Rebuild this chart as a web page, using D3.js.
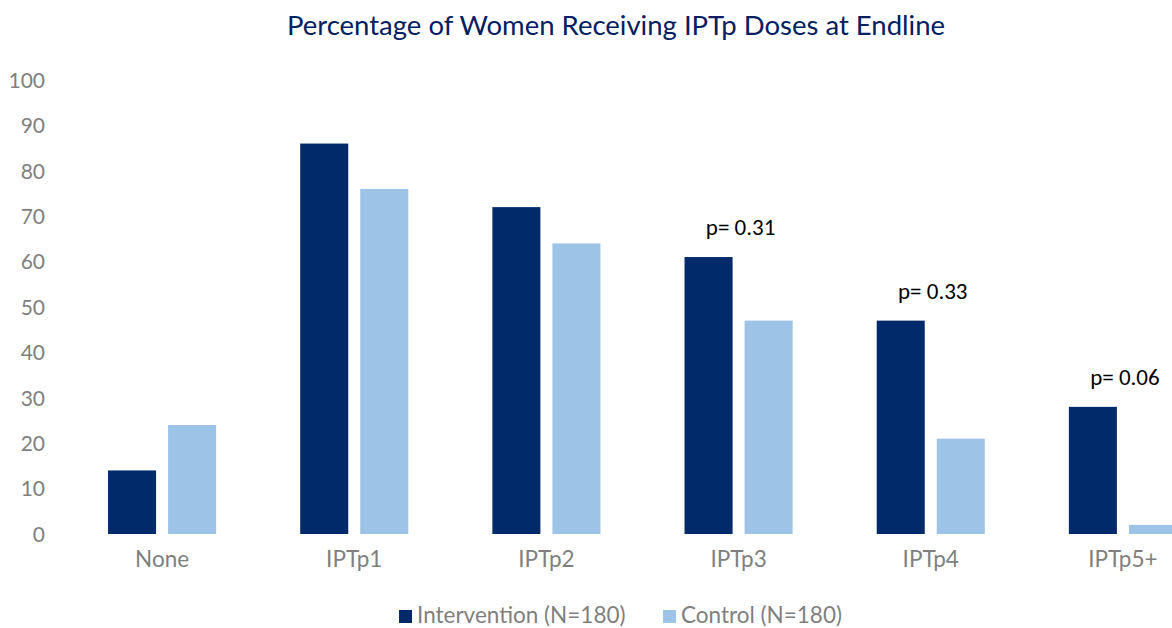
<!DOCTYPE html>
<html>
<head>
<meta charset="utf-8">
<script src="https://cdn.jsdelivr.net/npm/d3@7"></script>
<style>
  html, body { margin: 0; padding: 0; background: #fff; overflow: hidden; }
  svg { display: block; }
</style>
</head>
<body>
<svg id="chart" width="1172" height="628"></svg>
<script>
const categories = ["None", "IPTp1", "IPTp2", "IPTp3", "IPTp4", "IPTp5+"];
const seriesNames = ["Intervention (N=180)", "Control (N=180)"];
const intervention = [14, 86, 72, 61, 47, 28];
const control = [24, 76, 64, 47, 21, 2];
const pLabels = [null, null, null, "p= 0.31", "p= 0.33", "p= 0.06"];
const yTicks = [0, 10, 20, 30, 40, 50, 60, 70, 80, 90, 100];
const title = "Percentage of Women Receiving IPTp Doses at Endline";

const colors = ["#002A6A", "#9DC3E6"];
const greyText = "#7F7F7F";
const mainFont = "Lato, 'Open Sans', sans-serif";

const svg = d3.select("#chart");

const x = d3.scaleBand().domain(categories).range([66, 1219]).paddingInner(0.4375).paddingOuter(0.21875);
const xs = d3.scaleBand().domain([0, 1]).range([0, x.bandwidth()]).paddingInner(0.2).paddingOuter(0);
const y = d3.scaleLinear().domain([0, 100]).range([534, 80]);

// Title
svg.append("text")
  .attr("x", 616).attr("y", 35)
  .attr("text-anchor", "middle")
  .attr("font-family", mainFont)
  .attr("font-size", 27.5)
  .attr("fill", "#002060")
  .text(title);

// Y axis (labels only)
const yAxis = d3.axisLeft(y).tickValues(yTicks).tickSize(0).tickPadding(0);
const yg = svg.append("g").attr("transform", "translate(45,0)").call(yAxis);
yg.select(".domain").remove();
yg.selectAll("text")
  .attr("font-family", mainFont)
  .attr("font-size", 21)
  .attr("fill", greyText)
  .attr("dy", "0.35em");

// X axis (labels only)
const xAxis = d3.axisBottom(x).tickSize(0).tickPadding(0);
const xg = svg.append("g").attr("transform", "translate(0,551)").call(xAxis);
xg.select(".domain").remove();
xg.selectAll("text")
  .attr("font-family", mainFont)
  .attr("font-size", 22.5)
  .attr("fill", greyText)
  .attr("dy", "0.71em");

// Bars
const data = categories.map((c, i) => ({ cat: c, vals: [intervention[i], control[i]], p: pLabels[i] }));
const groups = svg.append("g").selectAll("g").data(data).join("g")
  .attr("transform", d => `translate(${x(d.cat)},0)`);
groups.selectAll("rect").data(d => d.vals.map((v, k) => ({ v, k }))).join("rect")
  .attr("x", d => xs(d.k))
  .attr("width", xs.bandwidth())
  .attr("y", d => y(d.v))
  .attr("height", d => y(0) - y(d.v))
  .attr("fill", d => colors[d.k]);

// p-value labels
svg.append("g").selectAll("text").data(data.filter(d => d.p)).join("text")
  .attr("x", d => x(d.cat) + x.bandwidth() / 2 + 2)
  .attr("y", d => y(d.vals[0]) - 22)
  .attr("text-anchor", "middle")
  .attr("font-family", "Carlito, Lato, sans-serif")
  .attr("font-size", 23)
  .attr("fill", "#000")
  .text(d => d.p);

// Legend
const legendX = [399, 663];
const lg = svg.append("g").selectAll("g").data(seriesNames).join("g")
  .attr("transform", (d, i) => `translate(${legendX[i]},0)`);
lg.append("rect").attr("x", 0).attr("y", 610).attr("width", 13).attr("height", 13)
  .attr("fill", (d, i) => colors[i]);
lg.append("text").attr("x", 18).attr("y", 623)
  .attr("font-family", mainFont)
  .attr("font-size", 22.5)
  .attr("fill", greyText)
  .text(d => d);
</script>
</body>
</html>
